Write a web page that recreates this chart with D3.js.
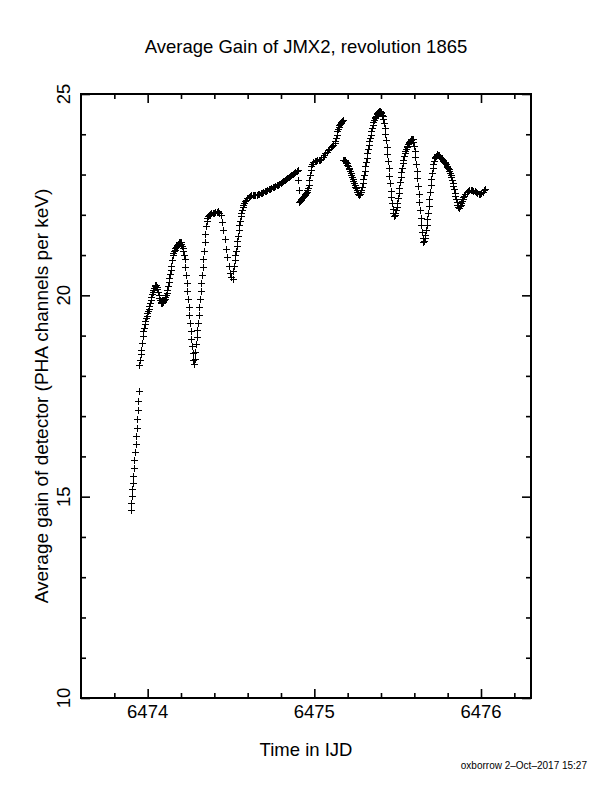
<!DOCTYPE html>
<html>
<head>
<meta charset="utf-8">
<script src="https://cdn.jsdelivr.net/npm/d3@7"></script>
<style>
  body { margin: 0; background: #fff; }
  text { font-family: "Liberation Sans", Arial, Helvetica, sans-serif; fill: #000; }
</style>
</head>
<body>
<div id="chart"></div>
<script>
// [IJD, average gain], one array per stretch of data
const run1 = [
  [6473.900,14.65],[6473.903,14.83],[6473.907,15.00],[6473.910,15.18],[6473.913,15.33],[6473.917,15.51],
  [6473.920,15.70],[6473.923,15.91],[6473.926,16.10],[6473.930,16.30],[6473.933,16.49],[6473.937,16.70],
  [6473.940,16.92],[6473.943,17.13],[6473.946,17.36],[6473.949,17.60]
];

const run2 = [
  [6473.952,18.25],[6473.956,18.38],[6473.960,18.52],[6473.964,18.64],[6473.968,18.80],[6473.972,18.97],
  [6473.976,19.09],[6473.980,19.18],[6473.984,19.27],[6473.988,19.35],[6473.992,19.42],[6473.996,19.48],
  [6474.000,19.54],[6474.004,19.59],[6474.008,19.65],[6474.012,19.72],[6474.016,19.79],[6474.020,19.86],
  [6474.024,19.94],[6474.028,20.01],[6474.032,20.06],[6474.036,20.12],[6474.040,20.17],[6474.044,20.22],
  [6474.048,20.25],[6474.052,20.25],[6474.056,20.20],[6474.060,20.14],[6474.064,20.08],[6474.068,20.00],
  [6474.072,19.93],[6474.076,19.87],[6474.080,19.82],[6474.084,19.80],[6474.088,19.80],[6474.092,19.82],
  [6474.096,19.84],[6474.100,19.86],[6474.104,19.89],[6474.108,19.94],[6474.112,19.99],[6474.116,20.05],
  [6474.120,20.13],[6474.124,20.21],[6474.128,20.31],[6474.132,20.41],[6474.136,20.51],[6474.140,20.61],
  [6474.144,20.72],[6474.148,20.86],[6474.152,20.98],[6474.156,21.04],[6474.160,21.09],[6474.164,21.12],
  [6474.168,21.16],[6474.172,21.19],[6474.176,21.22],[6474.180,21.24],[6474.184,21.26],[6474.188,21.28],
  [6474.192,21.30],[6474.196,21.31],[6474.200,21.30],[6474.204,21.27],[6474.208,21.22],[6474.212,21.16],
  [6474.216,21.09],[6474.220,21.00],[6474.224,20.88],[6474.228,20.70],[6474.232,20.50],[6474.236,20.30],
  [6474.240,20.10],[6474.244,19.90],[6474.248,19.70],[6474.252,19.50],[6474.256,19.30],[6474.260,19.10],
  [6474.264,18.90],[6474.268,18.72],[6474.272,18.55],[6474.276,18.38],[6474.280,18.28],[6474.284,18.40],
  [6474.288,18.58],[6474.292,18.77],[6474.296,18.95],[6474.300,19.12],[6474.304,19.30],[6474.308,19.50],
  [6474.312,19.70],[6474.316,19.90],[6474.320,20.10],[6474.324,20.30],[6474.328,20.50],[6474.332,20.70],
  [6474.336,20.90],[6474.340,21.10],[6474.344,21.30],[6474.348,21.50],[6474.352,21.70],[6474.356,21.83],
  [6474.360,21.91],[6474.364,21.95],[6474.368,21.98],[6474.376,22.01],[6474.384,22.02],[6474.392,22.03],
  [6474.400,22.04],[6474.408,22.05],[6474.416,22.06],[6474.424,22.07],[6474.432,22.04],[6474.440,21.99],
  [6474.448,21.82],[6474.456,21.60],[6474.464,21.38],[6474.472,21.15],[6474.480,20.93],[6474.488,20.72],
  [6474.496,20.55],[6474.504,20.44],[6474.512,20.39]
];

const run3 = [
  [6474.516,20.60],[6474.520,20.72],[6474.524,20.86],[6474.528,20.98],[6474.532,21.10],[6474.536,21.22],
  [6474.540,21.34],[6474.544,21.46],[6474.548,21.60],[6474.552,21.73],[6474.556,21.84],[6474.560,21.95],
  [6474.564,22.03],[6474.568,22.10],[6474.572,22.17],[6474.576,22.23],[6474.580,22.28],[6474.584,22.32],
  [6474.592,22.36],[6474.600,22.40],[6474.608,22.42],[6474.616,22.45],[6474.624,22.47],[6474.632,22.49],
  [6474.640,22.49],[6474.648,22.49],[6474.656,22.49],[6474.664,22.50],[6474.672,22.51],[6474.680,22.52],
  [6474.688,22.54],[6474.696,22.55],[6474.704,22.57],[6474.712,22.59],[6474.720,22.61],[6474.728,22.62],
  [6474.736,22.64],[6474.744,22.66],[6474.752,22.68],[6474.760,22.69],[6474.768,22.71],[6474.776,22.72],
  [6474.784,22.74],[6474.792,22.76],[6474.800,22.78],[6474.808,22.80],[6474.816,22.82],[6474.824,22.84],
  [6474.832,22.87],[6474.840,22.90],[6474.848,22.93],[6474.856,22.95],[6474.864,22.97],[6474.872,23.00],
  [6474.880,23.02],[6474.888,23.05],[6474.896,23.08],[6474.904,23.11],[6474.906,22.86],[6474.908,22.61]
];

const run4 = [
  [6474.912,22.30],[6474.916,22.33],[6474.920,22.36],[6474.924,22.38],[6474.928,22.40],[6474.932,22.42],
  [6474.936,22.43],[6474.940,22.45],[6474.944,22.47],[6474.948,22.50],[6474.952,22.53],[6474.956,22.56],
  [6474.960,22.60],[6474.964,22.65],[6474.968,22.74],[6474.972,22.86],[6474.976,22.98],[6474.980,23.10],
  [6474.984,23.19],[6474.988,23.25],[6474.992,23.29],[6474.996,23.31],[6475.004,23.32],[6475.012,23.33],
  [6475.020,23.34],[6475.028,23.35],[6475.036,23.36],[6475.044,23.38],[6475.052,23.42],[6475.060,23.47],
  [6475.068,23.51],[6475.076,23.55],[6475.084,23.59],[6475.092,23.63],[6475.100,23.66],[6475.108,23.69],
  [6475.116,23.72],[6475.124,23.76],[6475.128,23.82],[6475.132,23.90],[6475.136,23.98],[6475.140,24.06],
  [6475.144,24.12],[6475.148,24.17],[6475.152,24.21],[6475.156,24.24],[6475.160,24.27],[6475.164,24.29],
  [6475.168,24.31],[6475.172,24.33]
];

const run5 = [
  [6475.176,23.36],[6475.180,23.36],[6475.184,23.35],[6475.188,23.33],[6475.192,23.30],[6475.196,23.27],
  [6475.200,23.23],[6475.204,23.20],[6475.208,23.16],[6475.212,23.12],[6475.216,23.08],[6475.220,23.03],
  [6475.224,22.98],[6475.228,22.93],[6475.232,22.88],[6475.236,22.83],[6475.240,22.78],[6475.244,22.73],
  [6475.248,22.69],[6475.252,22.65],[6475.256,22.60],[6475.260,22.55],[6475.264,22.51],[6475.268,22.49],
  [6475.272,22.49],[6475.276,22.51],[6475.280,22.55],[6475.284,22.60],[6475.288,22.68],[6475.292,22.77],
  [6475.296,22.88],[6475.300,22.98],[6475.304,23.08],[6475.308,23.20],[6475.312,23.31],[6475.316,23.41],
  [6475.320,23.51],[6475.324,23.61],[6475.328,23.71],[6475.332,23.81],[6475.336,23.90],[6475.340,23.98],
  [6475.344,24.06],[6475.348,24.14],[6475.352,24.22],[6475.356,24.29],[6475.360,24.34],[6475.364,24.38],
  [6475.368,24.42],[6475.372,24.45],[6475.376,24.48],[6475.380,24.51],[6475.384,24.53],[6475.388,24.55],
  [6475.392,24.56],[6475.396,24.56],[6475.400,24.54],[6475.404,24.51],[6475.408,24.47],[6475.412,24.43],
  [6475.416,24.36],[6475.420,24.26],[6475.424,24.15],[6475.428,24.00],[6475.432,23.84],[6475.436,23.67],
  [6475.440,23.50],[6475.444,23.32],[6475.448,23.14],[6475.452,22.95],[6475.456,22.77],[6475.460,22.59],
  [6475.464,22.42],[6475.468,22.27],[6475.472,22.13],[6475.476,22.02],[6475.480,21.97],[6475.484,21.99],
  [6475.488,22.04],[6475.492,22.10],[6475.496,22.18],[6475.500,22.29],[6475.504,22.40],[6475.508,22.53],
  [6475.512,22.66],[6475.516,22.79],[6475.520,22.92],[6475.524,23.04],[6475.528,23.16],[6475.532,23.27],
  [6475.536,23.36],[6475.540,23.44],[6475.544,23.51],[6475.548,23.57],[6475.552,23.62],[6475.556,23.66],
  [6475.560,23.70],[6475.564,23.74],[6475.568,23.77],[6475.572,23.80],[6475.576,23.82],[6475.580,23.84],
  [6475.584,23.86],[6475.588,23.87],[6475.592,23.86],[6475.596,23.80],[6475.600,23.69],[6475.604,23.57],
  [6475.608,23.42],[6475.612,23.26],[6475.616,23.08],[6475.620,22.90],[6475.624,22.70],[6475.628,22.50],
  [6475.632,22.30],[6475.636,22.10],[6475.640,21.92],[6475.644,21.74],[6475.648,21.57],[6475.652,21.42],
  [6475.656,21.31],[6475.660,21.33],[6475.664,21.40],[6475.668,21.49],[6475.672,21.60],[6475.676,21.73],
  [6475.680,21.88],[6475.684,22.04],[6475.688,22.21],[6475.692,22.38],[6475.696,22.55],[6475.700,22.72],
  [6475.704,22.88],[6475.708,23.03],[6475.712,23.15],[6475.716,23.25],[6475.720,23.33],[6475.724,23.39],
  [6475.728,23.43],[6475.732,23.46],[6475.736,23.48],[6475.740,23.49],[6475.744,23.48],[6475.748,23.47],
  [6475.752,23.45],[6475.756,23.43],[6475.760,23.41],[6475.764,23.39],[6475.768,23.37],[6475.772,23.35],
  [6475.776,23.33],[6475.780,23.31],[6475.784,23.29],[6475.788,23.27],[6475.792,23.24],[6475.796,23.21],
  [6475.800,23.18],[6475.804,23.15],[6475.808,23.12],[6475.812,23.08],[6475.816,23.03],[6475.820,22.98],
  [6475.824,22.92],[6475.828,22.85],[6475.832,22.78],[6475.836,22.70],[6475.840,22.62],[6475.844,22.54],
  [6475.848,22.46],[6475.852,22.38],[6475.856,22.30],[6475.860,22.23],[6475.864,22.18],[6475.868,22.15],
  [6475.872,22.16],[6475.876,22.20],[6475.880,22.24],[6475.884,22.28],[6475.888,22.33],[6475.892,22.38],
  [6475.896,22.42],[6475.900,22.46],[6475.908,22.51],[6475.916,22.55],[6475.924,22.58],[6475.932,22.60],
  [6475.940,22.61],[6475.948,22.60],[6475.956,22.59],[6475.964,22.57],[6475.972,22.55],[6475.980,22.53],
  [6475.988,22.51],[6475.996,22.50],[6476.004,22.52],[6476.012,22.56],[6476.020,22.60],[6476.028,22.63]
];

const xMajor = [6474, 6475, 6476];
const xMinor = [6473.8, 6474.2, 6474.4, 6474.6, 6474.8, 6475.2, 6475.4, 6475.6, 6475.8, 6476.2];
const yMajor = [10, 15, 20, 25];
const yMinor = [11, 12, 13, 14, 16, 17, 18, 19, 21, 22, 23, 24];

const title = 'Average Gain of JMX2, revolution 1865';
const xTitle = 'Time in IJD';
const yTitle = 'Average gain of detector (PHA channels per keV)';
const stamp = 'oxborrow  2\u2013Oct\u20132017 15:27';

class GainPlot {
  constructor (el) {
    this.w = 612;
    this.h = 792;
    this.x0 = 81;
    this.x1 = 531;
    this.y0 = 94;
    this.y1 = 698;
    this.fs = 18.5;
    this.el = el;
  }

  render (data) {
    d3.select('#' + this.el + ' svg').remove();

    this.svg = d3.select('#' + this.el)
      .append('svg')
      .attr('width', this.w)
      .attr('height', this.h)
      .style('background', '#fff');

    this.computeScaleFns();
    this.addAxes();
    this.addPoints(data);
    this.addLabels();
  }

  computeScaleFns () {
    this.xScale = d3.scaleLinear()
      .domain([6473.6, 6476.3])
      .range([this.x0, this.x1]);

    this.yScale = d3.scaleLinear()
      .domain([10, 25])
      .range([this.y1, this.y0]);
  }

  // ticks point inward on all four sides, long at the labelled values
  addAxes () {
    let g = this.svg.append('g').attr('class', 'axes');
    let sides = [
      [d3.axisBottom(this.xScale), xMajor, xMinor, `translate(0,${this.y1})`],
      [d3.axisTop(this.xScale), xMajor, xMinor, `translate(0,${this.y0})`],
      [d3.axisLeft(this.yScale), yMajor, yMinor, `translate(${this.x0},0)`],
      [d3.axisRight(this.yScale), yMajor, yMinor, `translate(${this.x1},0)`]
    ];

    sides.forEach(([axis, major, minor, tr]) => {
      g.append('g').attr('transform', tr)
        .call(axis.tickValues(major).tickSize(-9).tickFormat(''));
      g.append('g').attr('transform', tr)
        .call(axis.tickValues(minor).tickSize(-5).tickFormat(''));
    });

    g.selectAll('.domain').remove();
    g.selectAll('.tick line')
      .attr('stroke', '#000')
      .attr('stroke-width', 1.6);

    g.append('rect')
      .attr('x', this.x0)
      .attr('y', this.y0)
      .attr('width', this.x1 - this.x0)
      .attr('height', this.y1 - this.y0)
      .attr('fill', 'none')
      .attr('stroke', '#000')
      .attr('stroke-width', 2);
  }

  addPoints (data) {
    this.svg.append('g')
      .attr('shape-rendering', 'crispEdges')
      .selectAll('.pt')
      .data(data)
      .enter().append('path')
      .attr('class', 'pt')
      .attr('transform', d => `translate(${this.xScale(d[0])},${this.yScale(d[1])})`)
      .attr('d', 'M-3.5,0H3.5M0,-3.5V3.5')
      .attr('stroke', '#000')
      .attr('stroke-width', 1)
      .attr('fill', 'none');
  }

  addLabels () {
    this.svg.selectAll('.xlab')
      .data(xMajor)
      .enter().append('text')
      .attr('class', 'xlab')
      .attr('x', d => this.xScale(d))
      .attr('y', this.y1 + 20)
      .style('text-anchor', 'middle')
      .style('font-size', this.fs + 'px')
      .text(d => d);

    this.svg.selectAll('.ylab')
      .data(yMajor)
      .enter().append('text')
      .attr('class', 'ylab')
      .attr('transform', d => `translate(70,${this.yScale(d)}) rotate(-90)`)
      .style('text-anchor', 'middle')
      .style('font-size', this.fs + 'px')
      .text(d => d);

    this.svg.append('text')
      .attr('x', 306)
      .attr('y', 53)
      .style('text-anchor', 'middle')
      .style('font-size', this.fs + 'px')
      .text(title);

    this.svg.append('text')
      .attr('x', (this.x0 + this.x1) / 2)
      .attr('y', 756)
      .style('text-anchor', 'middle')
      .style('font-size', this.fs + 'px')
      .text(xTitle);

    this.svg.append('text')
      .attr('transform', `translate(48,${(this.y0 + this.y1) / 2}) rotate(-90)`)
      .style('text-anchor', 'middle')
      .style('font-size', '19px')
      .text(yTitle);

    this.svg.append('text')
      .attr('x', 587)
      .attr('y', 769)
      .style('text-anchor', 'end')
      .style('font-size', '10px')
      .text(stamp);
  }
}

let plot = new GainPlot('chart');
plot.render([].concat(run1, run2, run3, run4, run5));
</script>
</body>
</html>
